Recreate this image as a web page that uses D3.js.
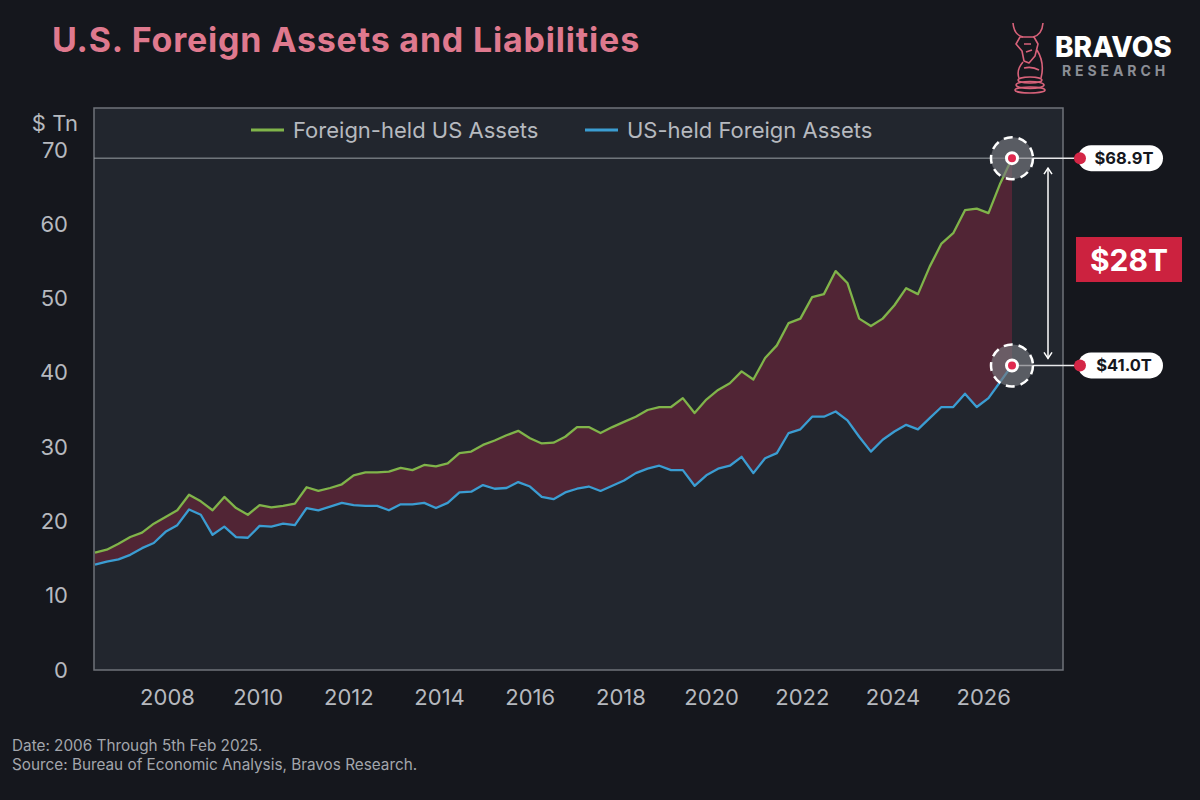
<!DOCTYPE html>
<html>
<head>
<meta charset="utf-8">
<script src="https://cdn.jsdelivr.net/npm/d3@7"></script>
<style>
  body { margin: 0; background: #15171d; }
  svg { display: block; font-family: Inter, "Noto Sans", sans-serif; }
</style>
</head>
<body>
<div id="chart"></div>
<script>
var width = 1200,
    height = 800;

// quarterly points, 2006 Q1 .. 2025 Q3
const quarters = [];
d3.range(2006, 2026).forEach(yr => [1, 2, 3, 4].forEach(q => quarters.push(yr + "-Q" + q)));
quarters.splice(79);

// $ Tn
const foreignHeld = [
  15.8, 16.2, 17.0, 17.9, 18.5, 19.7, 20.6, 21.5, 23.6, 22.7,
  21.5, 23.3, 21.8, 20.9, 22.2, 21.9, 22.1, 22.4, 24.6, 24.1,
  24.5, 25.0, 26.2, 26.6, 26.6, 26.7, 27.2, 26.9, 27.6, 27.4,
  27.8, 29.2, 29.4, 30.3, 30.9, 31.6, 32.2, 31.2, 30.5, 30.6,
  31.4, 32.7, 32.7, 31.9, 32.7, 33.4, 34.1, 35.0, 35.4, 35.4,
  36.6, 34.6, 36.4, 37.7, 38.6, 40.2, 39.1, 42.0, 43.7, 46.7,
  47.3, 50.2, 50.6, 53.7, 52.1, 47.3, 46.3, 47.3, 49.1, 51.4,
  50.6, 54.3, 57.4, 58.8, 61.9, 62.1, 61.5, 65.5, 68.9
];
const usHeld = [
  14.2, 14.6, 14.9, 15.5, 16.4, 17.1, 18.6, 19.5, 21.6, 20.9,
  18.2, 19.3, 17.9, 17.8, 19.4, 19.3, 19.7, 19.5, 21.8, 21.5,
  22.0, 22.5, 22.2, 22.1, 22.1, 21.5, 22.3, 22.3, 22.5, 21.8,
  22.5, 23.9, 24.0, 24.9, 24.4, 24.5, 25.3, 24.7, 23.3, 23.0,
  23.9, 24.4, 24.7, 24.1, 24.8, 25.5, 26.5, 27.1, 27.5, 26.9,
  26.9, 24.8, 26.2, 27.1, 27.5, 28.7, 26.5, 28.5, 29.2, 31.9,
  32.4, 34.1, 34.1, 34.8, 33.6, 31.4, 29.4, 31.0, 32.1, 33.0,
  32.4, 33.9, 35.4, 35.4, 37.2, 35.4, 36.6, 38.8, 41.0
];

const yTicks = [0, 10, 20, 30, 40, 50, 60, 70];
const yearTicks = [2008, 2010, 2012, 2014, 2016, 2018, 2020, 2022, 2024, 2026];
const seriesNames = ["Foreign-held US Assets", "US-held Foreign Assets"];
const endLabels = ["$68.9T", "$41.0T"];
const gapLabel = "$28T";

const green = "#80b44a",
      blue = "#3b9dd2",
      red = "#cc223f";

var svg = d3.select("#chart")
    .append("svg")
    .attr("width", width)
    .attr("height", height);

svg.append("rect")
    .attr("width", width)
    .attr("height", height)
    .attr("fill", "#15171d");

// scales
var x = d3.scalePoint()
    .domain(quarters)
    .range([95, 1012]);

// year labels along the bottom, as printed on the original
var xYear = d3.scaleLinear()
    .domain([2006.39, 2027.76])
    .range([94, 1063]);

var y = d3.scaleLinear()
    .domain([0, 70])
    .range([670, 150]);

// plot frame
svg.append("rect")
    .attr("x", 94)
    .attr("y", 108)
    .attr("width", 969)
    .attr("height", 562)
    .attr("fill", "#22262e")
    .attr("stroke", "#6f737a")
    .attr("stroke-width", 1.5);

// title
svg.append("text")
    .attr("x", 52)
    .attr("y", 52)
    .attr("fill", "#df798e")
    .attr("font-size", "34px")
    .attr("font-weight", 700)
    .attr("letter-spacing", "0.8px")
    .text("U.S. Foreign Assets and Liabilities");

// axes
svg.append("g")
    .attr("transform", "translate(68,0)")
    .call(d3.axisLeft(y).tickValues(yTicks).tickSize(0).tickPadding(0))
    .call(g => g.select(".domain").remove())
    .selectAll("text")
    .attr("fill", "#b6b9bf")
    .attr("font-size", "22px")
    .attr("font-family", "Inter, sans-serif");

svg.append("text")
    .attr("x", 55)
    .attr("y", 123)
    .attr("dy", "0.35em")
    .attr("text-anchor", "middle")
    .attr("fill", "#b6b9bf")
    .attr("font-size", "22px")
    .text("$ Tn");

svg.append("g")
    .attr("transform", "translate(0,670)")
    .call(d3.axisBottom(xYear).tickValues(yearTicks).tickFormat(d3.format("d")).tickSize(0).tickPadding(19))
    .call(g => g.select(".domain").remove())
    .selectAll("text")
    .attr("fill", "#b6b9bf")
    .attr("font-size", "22px")
    .attr("font-family", "Inter, sans-serif");

// gap area and lines
var idx = d3.range(quarters.length);

svg.append("path")
    .datum(idx)
    .attr("fill", "#512535")
    .attr("d", d3.area()
        .x(i => x(quarters[i]))
        .y0(i => y(usHeld[i]))
        .y1(i => y(foreignHeld[i])));

[[foreignHeld, green], [usHeld, blue]].forEach(function (s) {
    svg.append("path")
        .datum(idx)
        .attr("fill", "none")
        .attr("stroke", s[1])
        .attr("stroke-width", 2.3)
        .attr("stroke-linejoin", "round")
        .attr("d", d3.line()
            .x(i => x(quarters[i]))
            .y(i => y(s[0][i])));
});

// legend
var legend = svg.append("g");
[[seriesNames[0], green, 251], [seriesNames[1], blue, 585]].forEach(function (l) {
    legend.append("line")
        .attr("x1", l[2]).attr("x2", l[2] + 33)
        .attr("y1", 130).attr("y2", 130)
        .attr("stroke", l[1])
        .attr("stroke-width", 3);
    legend.append("text")
        .attr("x", l[2] + 42)
        .attr("y", 130)
        .attr("dy", "0.35em")
        .attr("fill", "#b6b9bf")
        .attr("font-size", "22px")
        .text(l[0]);
});

// end point annotations
var last = quarters.length - 1,
    lx = x(quarters[last]);
var ends = [y(foreignHeld[last]), y(usHeld[last])];

// reference line at the latest foreign-held value
svg.append("line")
    .attr("x1", 94).attr("x2", lx)
    .attr("y1", ends[0]).attr("y2", ends[0])
    .attr("stroke", "#9a9ea5")
    .attr("stroke-width", 1);

ends.forEach(function (ey, k) {
    svg.append("line")
        .attr("x1", lx).attr("x2", 1080)
        .attr("y1", ey).attr("y2", ey)
        .attr("stroke", "#e8e8ea")
        .attr("stroke-width", 1.5);

    svg.append("circle")
        .attr("cx", lx).attr("cy", ey).attr("r", 21)
        .attr("fill", "rgba(120,122,128,0.65)")
        .attr("stroke", "#ffffff")
        .attr("stroke-width", 2.5)
        .attr("stroke-dasharray", "9,6");

    svg.append("circle")
        .attr("cx", lx).attr("cy", ey).attr("r", 5.5)
        .attr("fill", "#e0294f")
        .attr("stroke", "#ffffff")
        .attr("stroke-width", 3);

    svg.append("rect")
        .attr("x", 1078).attr("y", ey - 13)
        .attr("width", 85).attr("height", 26)
        .attr("rx", 13)
        .attr("fill", "#ffffff");

    svg.append("circle")
        .attr("cx", 1080).attr("cy", ey).attr("r", 6)
        .attr("fill", "#d42646");

    svg.append("text")
        .attr("x", 1124).attr("y", ey)
        .attr("dy", "0.36em")
        .attr("text-anchor", "middle")
        .attr("fill", "#15171d")
        .attr("font-size", "16.5px")
        .attr("font-weight", 700)
        .text(endLabels[k]);
});

// double arrow between the two values
var ax = 1048, ay1 = ends[0] + 10, ay2 = ends[1] - 7;
svg.append("line")
    .attr("x1", ax).attr("x2", ax)
    .attr("y1", ay1).attr("y2", ay2)
    .attr("stroke", "#ffffff")
    .attr("stroke-width", 1.5);
svg.append("path")
    .attr("d", `M${ax - 4},${ay1 + 6}L${ax},${ay1}L${ax + 4},${ay1 + 6}M${ax - 4},${ay2 - 6}L${ax},${ay2}L${ax + 4},${ay2 - 6}`)
    .attr("fill", "none")
    .attr("stroke", "#ffffff")
    .attr("stroke-width", 1.5);

svg.append("rect")
    .attr("x", 1076).attr("y", 237)
    .attr("width", 106).attr("height", 45)
    .attr("fill", red);
svg.append("text")
    .attr("x", 1129).attr("y", 260)
    .attr("dy", "0.36em")
    .attr("text-anchor", "middle")
    .attr("fill", "#ffffff")
    .attr("font-size", "30px")
    .attr("font-weight", 700)
    .text(gapLabel);

// logo
var logo = svg.append("g")
    .attr("fill", "none")
    .attr("stroke", "#d8627a")
    .attr("stroke-width", 1.6)
    .attr("stroke-linejoin", "round");
logo.append("path").attr("d", "M1013,23 Q1014,35 1023,37 M1043,23 Q1042,35 1033,37");
logo.append("path").attr("d", "M1020,37 L1034,37 L1038,44 L1035,56 L1029,63 L1024,61 L1022,51 L1016,44 Z");
logo.append("path").attr("d", "M1024,44 L1031,44 M1026,52 L1032,50");
logo.append("path").attr("d", "M1023,62 Q1016,70 1019,78 M1037,50 Q1045,63 1041,78 M1024,68 Q1032,66 1039,70");
logo.append("ellipse").attr("cx", 1030).attr("cy", 80).attr("rx", 12).attr("ry", 3);
logo.append("ellipse").attr("cx", 1030).attr("cy", 85).attr("rx", 14).attr("ry", 3.5);
logo.append("ellipse").attr("cx", 1030).attr("cy", 90).attr("rx", 15).attr("ry", 3);

svg.append("text")
    .attr("x", 1055).attr("y", 57)
    .attr("fill", "#ffffff")
    .attr("font-size", "28px")
    .attr("font-weight", 800)
    .text("BRAVOS");
svg.append("text")
    .attr("x", 1062).attr("y", 76)
    .attr("fill", "#8b8e95")
    .attr("font-size", "14px")
    .attr("font-weight", 700)
    .attr("letter-spacing", "3.9px")
    .text("RESEARCH");

// footer
svg.append("text")
    .attr("x", 12).attr("y", 751)
    .attr("fill", "#a3a6ac")
    .attr("font-size", "15.3px")
    .text("Date: 2006 Through 5th Feb 2025.");
svg.append("text")
    .attr("x", 12).attr("y", 770)
    .attr("fill", "#a3a6ac")
    .attr("font-size", "15.3px")
    .text("Source: Bureau of Economic Analysis, Bravos Research.");
</script>
</body>
</html>
